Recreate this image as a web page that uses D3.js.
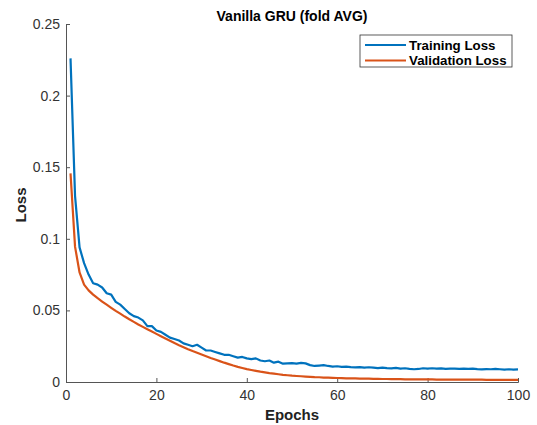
<!DOCTYPE html>
<html>
<head>
<meta charset="utf-8">
<script src="https://cdn.jsdelivr.net/npm/d3@7"></script>
<style>
  body { margin: 0; background: #fff; }
  svg { font-family: "Liberation Sans", Arial, sans-serif; }
</style>
</head>
<body>
<div id="chart"></div>
<script>
// Loss per epoch
const trainLoss = [
  0.226, 0.130, 0.094, 0.083, 0.075, 0.069, 0.068, 0.066, 0.062, 0.061,
  0.056, 0.054, 0.051, 0.048, 0.046, 0.045, 0.043, 0.039, 0.039, 0.036,
  0.035, 0.033, 0.031, 0.030, 0.029, 0.027, 0.026, 0.025, 0.026, 0.024,
  0.022, 0.022, 0.021, 0.020, 0.019, 0.019, 0.018, 0.017, 0.0175, 0.0165,
  0.016, 0.0165, 0.015, 0.0145, 0.015, 0.0135, 0.0142, 0.0128, 0.0130, 0.0132,
  0.0128, 0.0133, 0.0130, 0.0118, 0.0112, 0.0115, 0.0118, 0.0112, 0.0108, 0.0110,
  0.0106, 0.0107, 0.0104, 0.0102, 0.0104, 0.0100, 0.0103, 0.0100, 0.0097, 0.0101,
  0.0097, 0.0095, 0.0098, 0.0094, 0.0096, 0.0092, 0.0089, 0.0091, 0.0096, 0.0094,
  0.0096, 0.0093, 0.0095, 0.0092, 0.0094, 0.0093, 0.0091, 0.0094, 0.0092, 0.0093,
  0.0090, 0.0088, 0.0090, 0.0089, 0.0091, 0.0089, 0.0087, 0.0089, 0.0087, 0.0088
];
const valLoss = [
  0.1457, 0.0945, 0.0765, 0.0680, 0.0640, 0.0610, 0.0585, 0.0562, 0.0540, 0.0518,
  0.0497, 0.0477, 0.0457, 0.0438, 0.0420, 0.0402, 0.0385, 0.0368, 0.0352, 0.0336,
  0.0320, 0.0304, 0.0288, 0.0272, 0.0257, 0.0243, 0.0229, 0.0216, 0.0204, 0.0192,
  0.0180, 0.0168, 0.0157, 0.0146, 0.0135, 0.0125, 0.0115, 0.0106, 0.0098, 0.0090,
  0.0084, 0.0078, 0.0072, 0.0067, 0.0062, 0.0058, 0.0054, 0.0050, 0.0047, 0.0044,
  0.0042, 0.0040, 0.0038, 0.0036, 0.0034, 0.0033, 0.0031, 0.0030, 0.0029, 0.0028,
  0.0027, 0.0026, 0.0025, 0.0025, 0.0024, 0.0023, 0.0023, 0.0022, 0.0022, 0.0021,
  0.0021, 0.0020, 0.0020, 0.0020, 0.0019, 0.0019, 0.0019, 0.0018, 0.0018, 0.0018,
  0.0018, 0.0017, 0.0017, 0.0017, 0.0017, 0.0017, 0.0016, 0.0016, 0.0016, 0.0016,
  0.0016, 0.0016, 0.0015, 0.0015, 0.0015, 0.0015, 0.0015, 0.0015, 0.0015, 0.0015
];
const xTicks = [0, 20, 40, 60, 80, 100];
const yTicks = [0, 0.05, 0.1, 0.15, 0.2, 0.25];
const seriesNames = ["Training Loss", "Validation Loss"];
const seriesColors = ["#0072BD", "#D95319"];

const W = 537, H = 425;
const margin = { top: 24, right: 19, bottom: 43, left: 66 };
const width = W - margin.left - margin.right;
const height = H - margin.top - margin.bottom;

const svg = d3.select("#chart").append("svg")
  .attr("width", W)
  .attr("height", H);

const g = svg.append("g")
  .attr("transform", `translate(${margin.left},${margin.top})`);

const x = d3.scaleLinear().domain([0, 100]).range([0, width]);
const y = d3.scaleLinear().domain([0, 0.25]).range([height, 0]);

// axes, ticks point inward like matlab
const xAxis = g.append("g")
  .attr("transform", `translate(0,${height})`)
  .call(d3.axisBottom(x).tickValues(xTicks).tickSize(-4).tickPadding(8).tickFormat(d3.format("d")));
const yAxis = g.append("g")
  .call(d3.axisLeft(y).tickValues(yTicks).tickSize(-4).tickPadding(6).tickFormat(d => d === 0 ? "0" : String(d)));

[xAxis, yAxis].forEach(a => {
  a.select(".domain").attr("stroke", "#555").attr("stroke-width", 1);
  a.selectAll(".tick line").attr("stroke", "#555");
  a.selectAll(".tick text")
    .attr("fill", "#333")
    .style("font-size", "14px")
    .style("font-family", "Liberation Sans, Arial, sans-serif");
});

// lines
const line = d3.line()
  .x((d, i) => x(i + 1))
  .y(d => y(d));

[trainLoss, valLoss].forEach((s, k) => {
  g.append("path")
    .datum(s)
    .attr("fill", "none")
    .attr("stroke", seriesColors[k])
    .attr("stroke-width", 2.2)
    .attr("stroke-linejoin", "round")
    .attr("d", line);
});

// title and labels
svg.append("text")
  .attr("x", margin.left + width / 2)
  .attr("y", 21)
  .attr("text-anchor", "middle")
  .style("font-size", "14px")
  .style("font-weight", "bold")
  .attr("fill", "#000")
  .text("Vanilla GRU (fold AVG)");

svg.append("text")
  .attr("x", margin.left + width / 2)
  .attr("y", 420)
  .attr("text-anchor", "middle")
  .style("font-size", "15px")
  .style("font-weight", "bold")
  .attr("fill", "#222")
  .text("Epochs");

svg.append("text")
  .attr("transform", `translate(26,${margin.top + height / 2 + 2}) rotate(-90)`)
  .attr("text-anchor", "middle")
  .style("font-size", "15px")
  .style("font-weight", "bold")
  .attr("fill", "#222")
  .text("Loss");

// legend
const legend = svg.append("g").attr("transform", "translate(360,35)");
legend.append("rect")
  .attr("width", 152)
  .attr("height", 32)
  .attr("fill", "#fff")
  .attr("stroke", "#333")
  .attr("stroke-width", 0.8);

seriesNames.forEach((name, i) => {
  const row = legend.append("g").attr("transform", `translate(0,${10 + i * 15.5})`);
  row.append("line")
    .attr("x1", 5).attr("x2", 46)
    .attr("stroke", seriesColors[i])
    .attr("stroke-width", 2.2);
  row.append("text")
    .attr("x", 49)
    .attr("dy", "0.35em")
    .style("font-size", "13.3px")
    .style("font-weight", "bold")
    .attr("fill", "#000")
    .text(name);
});
</script>
</body>
</html>
